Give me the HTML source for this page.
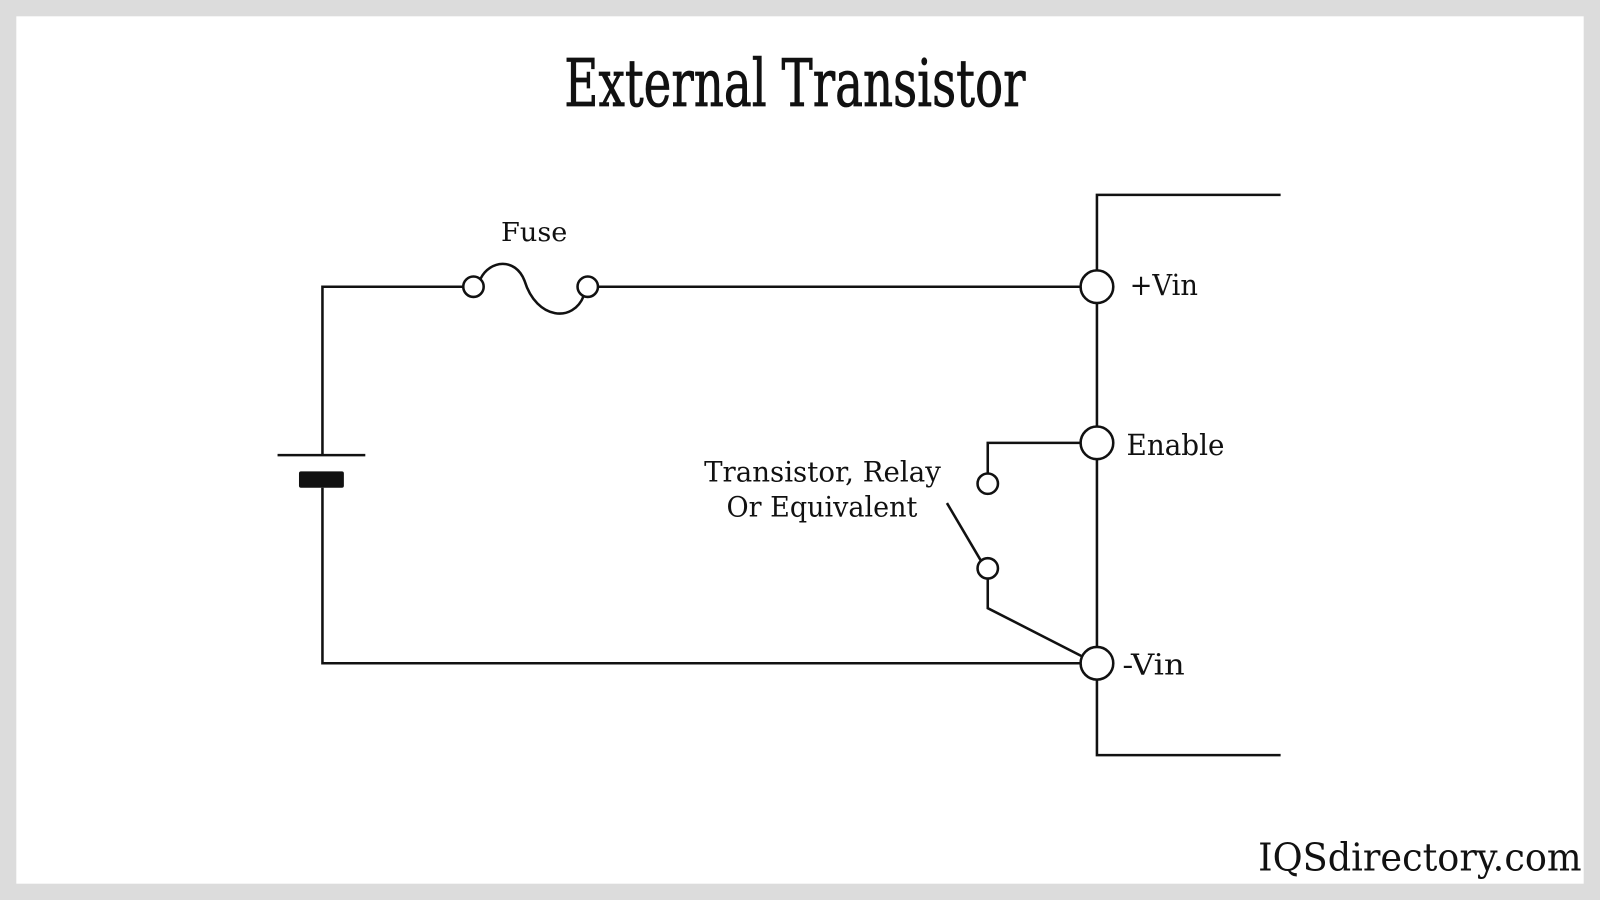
<!DOCTYPE html>
<html><head><meta charset="utf-8"><style>html,body{margin:0;padding:0;background:#dcdcdc}svg{display:block}</style></head>
<body>
<svg width="1600" height="900" viewBox="0 0 1568 882" preserveAspectRatio="none" xmlns="http://www.w3.org/2000/svg">
<rect x="0" y="0" width="1568" height="882" fill="#dcdcdc"/>
<rect x="16" y="16" width="1536" height="850" fill="#fff"/>
<g font-family="'DejaVu Serif','Liberation Serif',serif" fill="#111">
<text x="553" y="104" font-size="64" textLength="452" lengthAdjust="spacingAndGlyphs" stroke="#111" stroke-width="0.8">External Transistor</text>
<text x="491" y="236" font-size="26" textLength="65" lengthAdjust="spacingAndGlyphs">Fuse</text>
<text x="1107" y="289" font-size="28" textLength="67" lengthAdjust="spacingAndGlyphs">+Vin</text>
<text x="1104" y="446" font-size="28" textLength="96" lengthAdjust="spacingAndGlyphs">Enable</text>
<text x="1100" y="661" font-size="28" textLength="61" lengthAdjust="spacingAndGlyphs">-Vin</text>
<text x="690" y="472" font-size="27" textLength="232" lengthAdjust="spacingAndGlyphs">Transistor, Relay</text>
<text x="712" y="506" font-size="27" textLength="187" lengthAdjust="spacingAndGlyphs">Or Equivalent</text>
<text x="1233" y="853" font-size="38" textLength="317" lengthAdjust="spacingAndGlyphs">IQSdirectory.com</text>
</g>
<g stroke="#111" stroke-width="2.5" fill="none">
<path d="M316,446 V281 H454"/>
<path d="M586,281 H1059"/>
<path d="M471,273 C480,255 505,252 514,275 C526,314 562,316 572,290"/>
<circle cx="464" cy="281" r="10" fill="#fff"/>
<circle cx="576" cy="281" r="10" fill="#fff"/>
<path d="M1255,191 H1075 V265"/>
<path d="M1075,297 V418"/>
<path d="M1075,450 V634"/>
<path d="M1075,666 V740 H1255"/>
<circle cx="1075" cy="281" r="16"/>
<circle cx="1075" cy="434" r="16"/>
<circle cx="1075" cy="650" r="16"/>
<path d="M272,446 H358"/>
<path d="M316,478 V650 H1059"/>
<path d="M1059,434 H968 V464"/>
<circle cx="968" cy="474" r="10"/>
<path d="M928,493 L961,549"/>
<circle cx="968" cy="557" r="10"/>
<path d="M968,567 V596 L1060,643"/>
</g>
<rect x="293" y="462" width="44" height="16" rx="2" fill="#111"/>
</svg>
</body></html>
